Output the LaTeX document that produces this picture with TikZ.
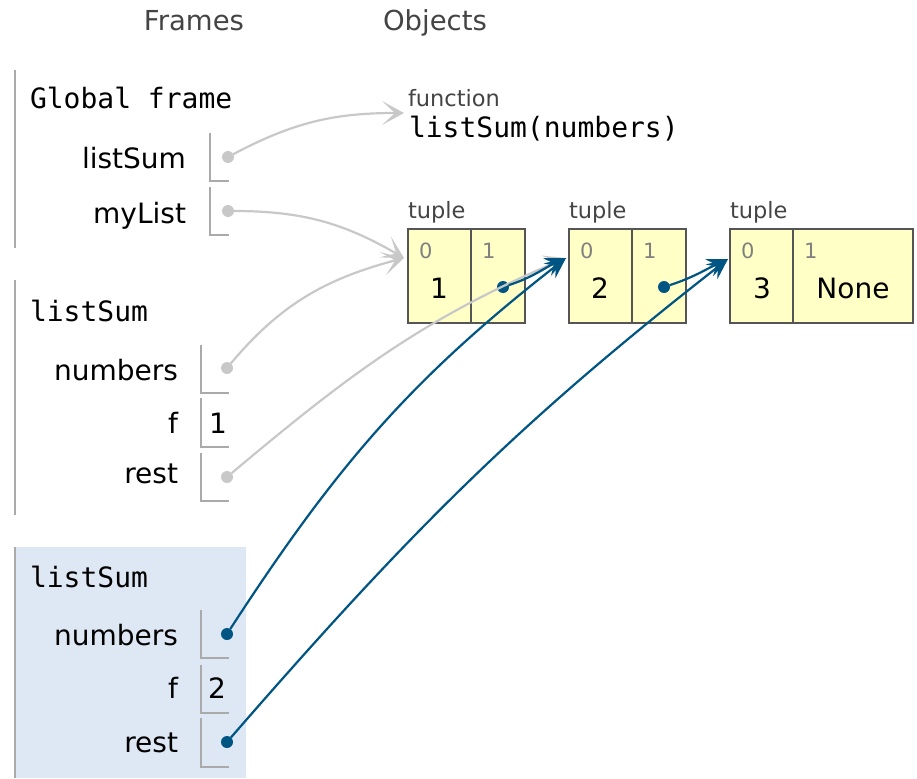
\documentclass[tikz,border=0pt]{standalone}
\usepackage{fontspec}
\setmainfont{DejaVu Sans}
\newfontfamily\monof{DejaVu Sans Mono}
\usetikzlibrary{arrows.meta}
\definecolor{ptblue}{HTML}{005583}
\definecolor{ptgray}{HTML}{C8C8C8}
\definecolor{barcol}{HTML}{AAAAAA}
\definecolor{tupfill}{HTML}{FFFFC6}
\definecolor{tupedge}{HTML}{555555}
\definecolor{hlbg}{RGB}{221,232,244}
\definecolor{hdrcol}{HTML}{444444}
\definecolor{idxcol}{HTML}{808080}
\tikzset{
  gtip/.tip={Stealth[length=22pt,width=24pt,inset=13pt,line width=0pt]},
  btip/.tip={Stealth[length=21pt,width=19pt,inset=8pt,line width=0pt]}
}
\begin{document}
\begin{tikzpicture}[x=1pt,y=-1pt,
  every node/.style={inner sep=0pt, outer sep=0pt},
  hdr/.style={font=\fontsize{27.5}{32}\selectfont, text=hdrcol},
  ftitle/.style={font=\monof\fontsize{28}{32}\selectfont, anchor=base west},
  vname/.style={font=\fontsize{28}{32}\selectfont, anchor=base east},
  vval/.style={font=\fontsize{28}{32}\selectfont, anchor=base},
  otype/.style={font=\fontsize{22.5}{26}\selectfont, text=hdrcol, anchor=base west},
  idx/.style={font=\fontsize{21}{24}\selectfont, text=idxcol, anchor=base west},
  framebar/.style={draw=barcol, line width=2pt},
  vbox/.style={draw=barcol, line width=1.6pt},
  tcell/.style={draw=tupedge, fill=tupfill, line width=1.8pt, anchor=north west, minimum height=94pt},
  gdot/.style={circle, fill=ptgray, minimum size=12pt},
  bdot/.style={circle, fill=ptblue, minimum size=12pt},
  garrow/.style={draw=ptgray, line width=2.2pt, -gtip},
  barrow/.style={draw=ptblue, line width=2.2pt, -btip}]
\useasboundingbox (0,0) rectangle (917,778);

% headers
\node[hdr, anchor=base] (hfr) at (194,31) {Frames};
\node[hdr, anchor=base west] (hob) at (383,31) {Objects};

% ---------- Global frame
\draw[framebar] (15,70) -- (15,248);
\node[ftitle] (gtitle) at (30,109) {Global frame};
\node[vname] (glsname) at (186,168) {listSum};
\node[vname] (gmlname) at (186,223) {myList};
\draw[vbox] (210,133) |- (229,181);
\draw[vbox] (210,187) |- (229,235);
\node[gdot] (glsdot) at (228,157) {};
\node[gdot] (gmldot) at (228,211) {};

% ---------- listSum frame 1
\draw[framebar] (15,280) -- (15,515);
\node[ftitle] (f1title) at (30,321) {listSum};
\node[vname] (f1num) at (178,380) {numbers};
\node[vname] (f1f) at (178,433) {f};
\node[vname] (f1rest) at (178,483) {rest};
\draw[vbox] (201,345) |- (229,393);
\draw[vbox] (201,398) |- (229,447);
\draw[vbox] (201,453) |- (229,501);
\node[vval] (f1fval) at (218,433) {1};
\node[gdot] (f1numdot) at (227,368) {};
\node[gdot] (f1restdot) at (227,477) {};

% ---------- listSum frame 2 (active)
\fill[hlbg] (14,547) rectangle (246,778);
\draw[framebar] (15,547) -- (15,778);
\node[ftitle] (f2title) at (30,587) {listSum};
\node[vname] (f2num) at (178,645) {numbers};
\node[vname] (f2f) at (178,698) {f};
\node[vname] (f2rest) at (178,752) {rest};
\draw[vbox] (201,610) |- (229,658);
\draw[vbox] (201,665) |- (229,713);
\draw[vbox] (201,718) |- (229,767);
\node[vval] (f2fval) at (217,698) {2};
\node[bdot] (f2numdot) at (227,634) {};
\node[bdot] (f2restdot) at (227,742) {};

% ---------- Objects
\node[otype] (fntype) at (408,107) {function};
\node[ftitle] (fnname) at (409,138) {listSum(numbers)};

\node[otype] (t1type) at (408,218) {tuple};
\node[otype] (t2type) at (569,218) {tuple};
\node[otype] (t3type) at (730,218) {tuple};

\node[tcell, minimum width=63pt] (t1a) at (408,229) {};
\node[tcell, minimum width=54pt] (t1b) at (471,229) {};
\node[tcell, minimum width=63pt] (t2a) at (569,229) {};
\node[tcell, minimum width=54pt] (t2b) at (632,229) {};
\node[tcell, minimum width=63pt] (t3a) at (730,229) {};
\node[tcell, minimum width=120pt] (t3b) at (793,229) {};

\node[idx] (t1i0) at (419,258) {0};
\node[idx] (t1i1) at (482,258) {1};
\node[idx] (t2i0) at (580,258) {0};
\node[idx] (t2i1) at (643,258) {1};
\node[idx] (t3i0) at (741,258) {0};
\node[idx] (t3i1) at (804,258) {1};

\node[vval] (t1v0) at (439,298) {1};
\node[vval] (t2v0) at (600,298) {2};
\node[vval] (t3v0) at (762,298) {3};
\node[vval] (t3v1) at (853,298) {None};

\node[bdot] (t1dot) at (503,287) {};
\node[bdot] (t2dot) at (664,287) {};

% arrow targets
\coordinate (fnin) at (404,113);
\coordinate (t1in) at (404,258);
\coordinate (t2in) at (566,258);
\coordinate (t3in) at (728,259);

% gray connectors
\draw[garrow] (glsdot) to[out=28,in=180] (fnin);
\draw[garrow] (gmldot) to[out=0,in=150] (t1in);
\draw[garrow] (f1numdot) to[out=50,in=195] (t1in);
\draw[garrow] (f1restdot) to[out=40,in=203] (t2in);

% blue connectors
\draw[barrow] (t1dot) to[out=18,in=205] (t2in);
\draw[barrow] (t2dot) to[out=18,in=205] (t3in);
\draw[barrow] (f2numdot) to[out=57,in=218] (t2in);
\draw[barrow] (f2restdot) to[out=49,in=218] (t3in);
\end{tikzpicture}
\end{document}
